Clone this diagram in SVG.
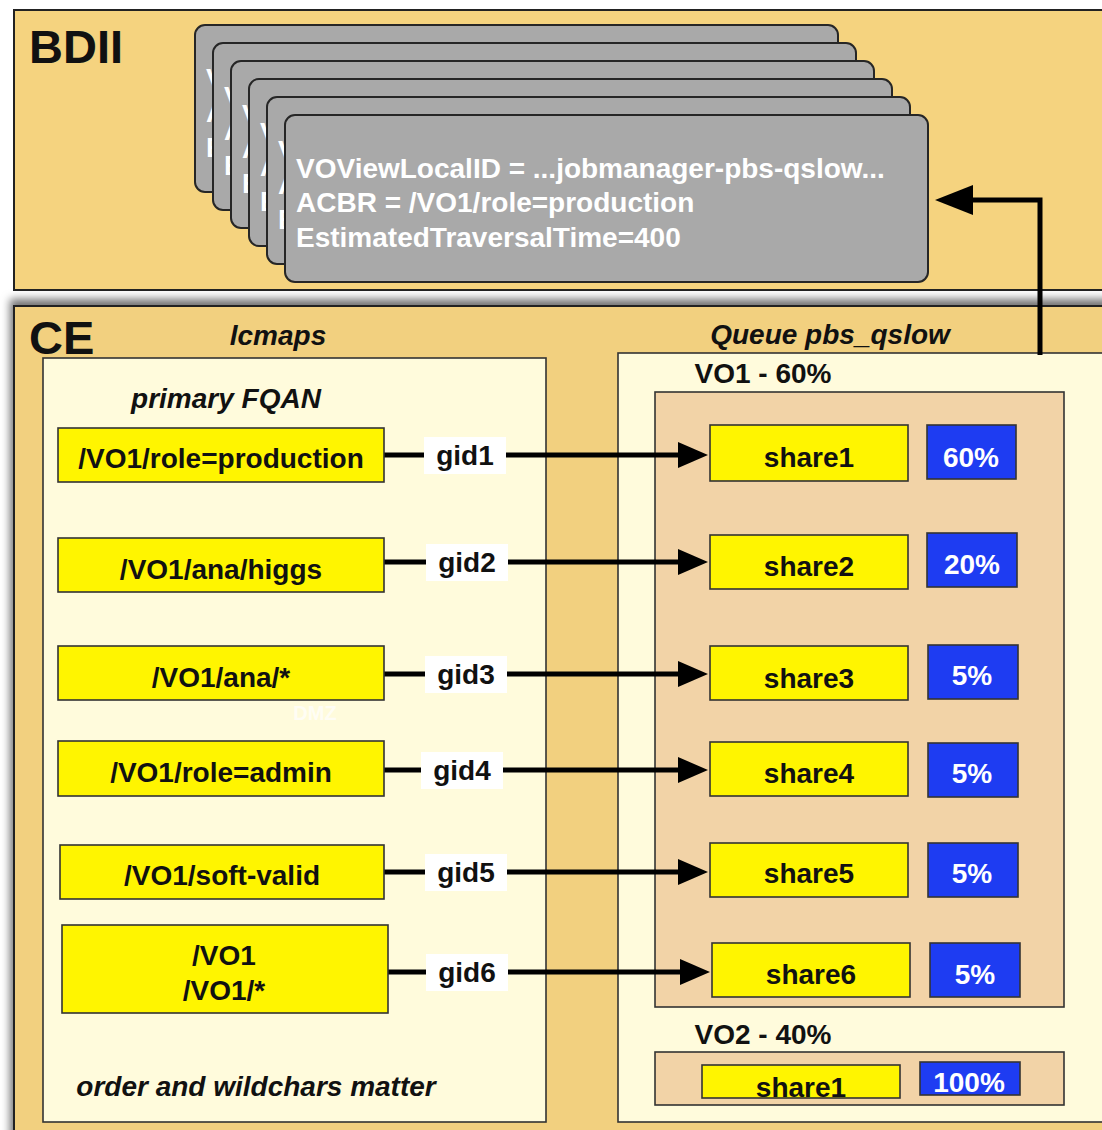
<svg xmlns="http://www.w3.org/2000/svg" width="1102" height="1130" viewBox="0 0 1102 1130">
<style>
.t{font-family:"Liberation Sans",Arial,sans-serif;font-weight:bold}
.big{font-size:47px;fill:#111}
.lab{font-size:28px;fill:#111;text-anchor:middle}
.it{font-style:italic}
.card{fill:#a9a9a9;stroke:#262626;stroke-width:2}
.ct{font-size:28px;fill:#fff}
.fq{fill:#fff500;stroke:#333;stroke-width:1.6}
.bl{fill:#1e3cf2;stroke:#333;stroke-width:1.6}
.wt{fill:#fff;font-size:28px;text-anchor:middle}
.cream{fill:#fffbdc;stroke:#333;stroke-width:1.6}
.tan{fill:#f2d3a7;stroke:#333;stroke-width:1.6}
.gidbg{fill:#fff}
.conn{stroke:#000;stroke-width:5;fill:none}
</style>
<defs>
<filter id="sh" x="-5%" y="-5%" width="110%" height="110%">
<feDropShadow dx="-3" dy="-6" stdDeviation="4" flood-color="#000" flood-opacity="0.55"/>
</filter>
<marker id="ah" markerUnits="userSpaceOnUse" markerWidth="30" markerHeight="26" refX="7" refY="13" orient="auto">
<path d="M0,0 L30,13 L0,26 z" fill="#000"/>
</marker>
<marker id="ahb" markerUnits="userSpaceOnUse" markerWidth="38" markerHeight="30" refX="8" refY="15" orient="auto">
<path d="M0,0 L38,15 L0,30 z" fill="#000"/>
</marker>
</defs>
<rect width="1102" height="1130" fill="#fff"/>

<g id="bdii">
<rect x="14" y="10" width="1100" height="280" fill="#f5d37f" stroke="#222" stroke-width="2"/>
<text class="t big" x="29" y="63">BDII</text>
</g>

<g id="cards">
<g id="card1"><rect class="card" x="195" y="25" width="643" height="167" rx="10"/>
<text class="t ct" x="206" y="88">V</text><text class="t ct" x="206" y="122">A</text><text class="t ct" x="206" y="157">E</text></g>
<g id="card2"><rect class="card" x="213" y="43" width="643" height="167" rx="10"/>
<text class="t ct" x="224" y="106">V</text><text class="t ct" x="224" y="140">A</text><text class="t ct" x="224" y="175">E</text></g>
<g id="card3"><rect class="card" x="231" y="61" width="643" height="167" rx="10"/>
<text class="t ct" x="242" y="124">V</text><text class="t ct" x="242" y="158">A</text><text class="t ct" x="242" y="193">E</text></g>
<g id="card4"><rect class="card" x="249" y="79" width="643" height="167" rx="10"/>
<text class="t ct" x="260" y="142">V</text><text class="t ct" x="260" y="176">A</text><text class="t ct" x="260" y="211">E</text></g>
<g id="card5"><rect class="card" x="267" y="97" width="643" height="167" rx="10"/>
<text class="t ct" x="278" y="160">V</text><text class="t ct" x="278" y="194">A</text><text class="t ct" x="278" y="229">E</text></g>
<g id="card6"><rect class="card" x="285" y="115" width="643" height="167" rx="10"/>
<text class="t ct" x="296" y="178">VOViewLocalID = ...jobmanager-pbs-qslow...</text><text class="t ct" x="296" y="212">ACBR = /VO1/role=production</text><text class="t ct" x="296" y="247">EstimatedTraversalTime=400</text></g>
</g>

<g id="ce">
<rect x="14" y="306" width="1100" height="840" fill="#f2d07f" stroke="#222" stroke-width="2" filter="url(#sh)"/>
<text class="t big" x="29" y="354">CE</text>
</g>

<g id="lcmaps">
<text class="t lab it" x="278" y="345">lcmaps</text>
<rect class="cream" x="43" y="358" width="503" height="764"/>
<text class="t lab it" x="226" y="408">primary FQAN</text>
<text class="t" x="315" y="720" font-size="20" fill="#fff" fill-opacity="0.7" text-anchor="middle">DMZ</text>
<text class="t lab it" x="256" y="1096">order and wildchars matter</text>
</g>

<g id="queue">
<text class="t lab it" x="830" y="344">Queue pbs_qslow</text>
<rect class="cream" x="618" y="353" width="500" height="769"/>
<text class="t lab" x="763" y="383">VO1 - 60%</text>
<rect class="tan" x="655" y="392" width="409" height="615"/>
<text class="t lab" x="763" y="1044">VO2 - 40%</text>
<rect class="tan" x="655" y="1052" width="409" height="53"/>
</g>

<g id="connectors">
<line class="conn" x1="384" y1="455" x2="685" y2="455" marker-end="url(#ah)"/>
<line class="conn" x1="384" y1="562" x2="685" y2="562" marker-end="url(#ah)"/>
<line class="conn" x1="384" y1="674" x2="685" y2="674" marker-end="url(#ah)"/>
<line class="conn" x1="384" y1="770" x2="685" y2="770" marker-end="url(#ah)"/>
<line class="conn" x1="384" y1="872" x2="685" y2="872" marker-end="url(#ah)"/>
<line class="conn" x1="388" y1="972" x2="687" y2="972" marker-end="url(#ah)"/>
<polyline class="conn" stroke-width="6" points="1040,355 1040,200 965,200" marker-end="url(#ahb)"/>
</g>

<g id="fqan1"><rect class="fq" x="58" y="428" width="326" height="54"/><text class="t lab" x="221" y="468">/VO1/role=production</text></g>
<g id="fqan2"><rect class="fq" x="58" y="538" width="326" height="54"/><text class="t lab" x="221" y="579">/VO1/ana/higgs</text></g>
<g id="fqan3"><rect class="fq" x="58" y="646" width="326" height="54"/><text class="t lab" x="221" y="687">/VO1/ana/*</text></g>
<g id="fqan4"><rect class="fq" x="58" y="741" width="326" height="55"/><text class="t lab" x="221" y="782">/VO1/role=admin</text></g>
<g id="fqan5"><rect class="fq" x="60" y="845" width="324" height="54"/><text class="t lab" x="222" y="885">/VO1/soft-valid</text></g>
<g id="fqan6"><rect class="fq" x="62" y="925" width="326" height="88"/><text class="t lab" x="224" y="965">/VO1</text><text class="t lab" x="224" y="1000">/VO1/*</text></g>

<g id="gid1"><rect class="gidbg" x="424" y="437" width="82" height="37"/><text class="t lab" x="465" y="465">gid1</text></g>
<g id="gid2"><rect class="gidbg" x="426" y="544" width="82" height="37"/><text class="t lab" x="467" y="572">gid2</text></g>
<g id="gid3"><rect class="gidbg" x="425" y="656" width="82" height="37"/><text class="t lab" x="466" y="684">gid3</text></g>
<g id="gid4"><rect class="gidbg" x="421" y="752" width="82" height="37"/><text class="t lab" x="462" y="780">gid4</text></g>
<g id="gid5"><rect class="gidbg" x="425" y="854" width="82" height="37"/><text class="t lab" x="466" y="882">gid5</text></g>
<g id="gid6"><rect class="gidbg" x="426" y="954" width="82" height="37"/><text class="t lab" x="467" y="982">gid6</text></g>

<g id="share1"><rect class="fq" x="710" y="425" width="198" height="56"/><text class="t lab" x="809" y="467">share1</text></g>
<g id="share2"><rect class="fq" x="710" y="535" width="198" height="54"/><text class="t lab" x="809" y="576">share2</text></g>
<g id="share3"><rect class="fq" x="710" y="646" width="198" height="54"/><text class="t lab" x="809" y="688">share3</text></g>
<g id="share4"><rect class="fq" x="710" y="742" width="198" height="54"/><text class="t lab" x="809" y="783">share4</text></g>
<g id="share5"><rect class="fq" x="710" y="843" width="198" height="54"/><text class="t lab" x="809" y="883">share5</text></g>
<g id="share6"><rect class="fq" x="712" y="943" width="198" height="54"/><text class="t lab" x="811" y="984">share6</text></g>
<g id="vo2share1"><rect class="fq" x="702" y="1065" width="198" height="33"/><text class="t lab" x="801" y="1097">share1</text></g>

<g id="pct1"><rect class="bl" x="927" y="425" width="89" height="54"/><text class="t wt" x="971" y="467">60%</text></g>
<g id="pct2"><rect class="bl" x="927" y="533" width="90" height="54"/><text class="t wt" x="972" y="574">20%</text></g>
<g id="pct3"><rect class="bl" x="928" y="645" width="90" height="54"/><text class="t wt" x="972" y="685">5%</text></g>
<g id="pct4"><rect class="bl" x="928" y="743" width="90" height="54"/><text class="t wt" x="972" y="783">5%</text></g>
<g id="pct5"><rect class="bl" x="928" y="843" width="90" height="54"/><text class="t wt" x="972" y="883">5%</text></g>
<g id="pct6"><rect class="bl" x="930" y="943" width="90" height="54"/><text class="t wt" x="975" y="984">5%</text></g>
<g id="pct7"><rect class="bl" x="920" y="1062" width="100" height="33"/><text class="t wt" x="969" y="1092">100%</text></g>
</svg>
